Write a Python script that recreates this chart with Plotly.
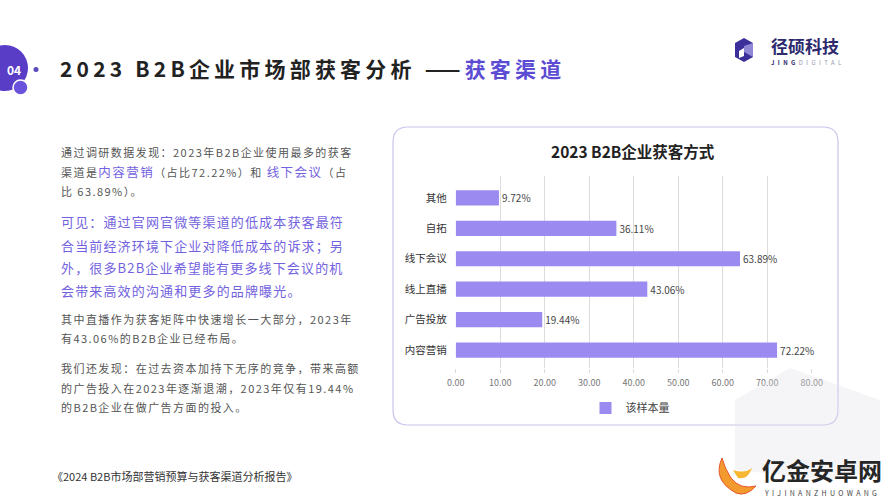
import plotly.graph_objects as go

W, H = 889, 500
FONT = "Noto Sans CJK SC"

# ---- data ----
categories = ["内容营销", "广告投放", "线上直播", "线下会议", "自拓", "其他"]
values = [72.22, 19.44, 43.06, 63.89, 36.11, 9.72]
x_ticks = [0, 10, 20, 30, 40, 50, 60, 70, 80]
series_name = "该样本量"
chart_title = "2023 B2B企业获客方式"

GRAY = "#555555"
PURP = "#7262e0"
TITLE_PURP = "#5b4cd3"
BAR = "#9b8af0"


def px(x):
    return x / W


def py(y):
    return 1 - y / H


fig = go.Figure()
fig.add_trace(go.Bar(
    x=values, y=categories, orientation="h", name=series_name,
    marker=dict(color=BAR, line=dict(width=0)), width=0.5,
    texttemplate="%{x:.2f}%", textposition="outside",
    textfont=dict(size=10, color="#444444", family=FONT),
    cliponaxis=False, hoverinfo="skip", showlegend=True,
))

shapes = []


def rrect(x0, y0, x1, y1, r):
    pts = [
        ("M", [(x0 + r, y0)]), ("L", [(x1 - r, y0)]), ("Q", [(x1, y0), (x1, y0 + r)]),
        ("L", [(x1, y1 - r)]), ("Q", [(x1, y1), (x1 - r, y1)]), ("L", [(x0 + r, y1)]),
        ("Q", [(x0, y1), (x0, y1 - r)]), ("L", [(x0, y0 + r)]), ("Q", [(x0, y0), (x0 + r, y0)]),
    ]
    s = ""
    for cmd, ps in pts:
        s += cmd + " " + " ".join(f"{px(a):.5f},{py(b):.5f}" for a, b in ps) + " "
    return s + "Z"


def poly(points):
    s = "M " + " L ".join(f"{px(a):.5f},{py(b):.5f}" for a, b in points)
    return s + " Z"


def qpath(cmds):
    s = ""
    for cmd, ps in cmds:
        s += cmd + " " + " ".join(f"{px(a):.5f},{py(b):.5f}" for a, b in ps) + " "
    return s + "Z"


# chart card
shapes.append(dict(type="path", xref="paper", yref="paper", path=rrect(393, 127, 838, 425, 15),
                   fillcolor="white", line=dict(color="#c9c4ec", width=1.2), layer="below"))
# faint background cube watermark
shapes.append(dict(type="path", xref="paper", yref="paper",
                   path=poly([(735, 400), (790, 368), (880, 400), (880, 470), (830, 480), (735, 470)]),
                   fillcolor="rgba(225,225,232,0.35)", line=dict(width=0), layer="above"))
# badge
shapes.append(dict(type="circle", xref="paper", yref="paper", x0=px(-18), x1=px(28), y0=py(45), y1=py(91),
                   fillcolor="#5a3dc6", line=dict(width=0)))
shapes.append(dict(type="circle", xref="paper", yref="paper", x0=px(13), x1=px(28), y0=py(80), y1=py(95),
                   fillcolor="#6a52dc", line=dict(color="white", width=1.5)))
shapes.append(dict(type="circle", xref="paper", yref="paper", x0=px(33.5), x1=px(38.5), y0=py(67), y1=py(72),
                   fillcolor="#5a4cc0", line=dict(width=0)))
# logo icon
shapes.append(dict(type="path", xref="paper", yref="paper",
                   path=poly([(744, 38), (753, 43), (753, 57), (744, 62), (735, 57), (735, 43)]),
                   fillcolor="#3c2f9a", line=dict(width=0)))
shapes.append(dict(type="path", xref="paper", yref="paper",
                   path=poly([(744, 46), (753, 43), (753, 57), (744, 52)]),
                   fillcolor="#8f86d6", line=dict(width=0)))
shapes.append(dict(type="path", xref="paper", yref="paper",
                   path=poly([(739, 51), (744, 48), (744, 56), (739, 58)]),
                   fillcolor="white", line=dict(width=0)))
# flame watermark
shapes.append(dict(type="path", xref="paper", yref="paper",
                   path=qpath([("M", [(722, 458)]), ("Q", [(712, 480), (736, 493)]),
                               ("Q", [(746, 497), (756, 486)]), ("Q", [(740, 490), (731, 478)]),
                               ("Q", [(725, 469), (722, 458)])]),
                   fillcolor="#f29a2e", line=dict(color="#e8542a", width=1)))
shapes.append(dict(type="path", xref="paper", yref="paper",
                   path=qpath([("M", [(733, 470)]), ("Q", [(745, 474), (752, 468)]),
                               ("Q", [(748, 480), (738, 478)])]),
                   fillcolor="#f7b733", line=dict(width=0)))

ann = []


def text(x, y, s, size, color="#333333", anchor="left", family=FONT):
    ann.append(dict(xref="paper", yref="paper", x=px(x), y=py(y), xanchor=anchor, yanchor="middle",
                    text=s, showarrow=False, font=dict(size=size, color=color, family=family)))


def sp(s, ls):
    return f'<span style="letter-spacing:{ls}px">{s}</span>'


# header
text(14, 69, "<b>04</b>", 12, "white", "center")
text(58, 68, sp("<b>2023 B2B企业市场部获客分析 ——</b>", 4.2) +
     f'<span style="letter-spacing:4.2px;fill:{TITLE_PURP}"><b>获客渠道</b></span>', 21, "#222222")
text(769, 46, "<b>径硕科技</b>", 17, "#2d2a6e")
text(769, 62, sp('<b>JING</b><span style="fill:#9a9ab0">DIGITAL</span>', 3.4), 6, "#2d2a6e")

# left text
LS = 1.45
PLS = 1.15
X0 = 58.5
text(X0, 152, sp("通过调研数据发现：2023年B2B企业使用最多的获客", LS), 11, GRAY)
text(X0, 171.5, sp("渠道是", LS) +
     f'<span style="letter-spacing:{LS}px;font-size:12.5px;fill:{PURP}">内容营销</span>' +
     sp("（占比72.22%）和 ", LS) +
     f'<span style="letter-spacing:{LS}px;font-size:12.5px;fill:{PURP}">线下会议</span>' +
     sp("（占", LS), 11, GRAY)
text(X0, 191, sp("比 63.89%）。", LS), 11, GRAY)
text(X0, 222, sp("可见：通过官网官微等渠道的低成本获客最符", PLS), 13, PURP)
text(X0, 245, sp("合当前经济环境下企业对降低成本的诉求；另", PLS), 13, PURP)
text(X0, 267.5, sp("外，很多B2B企业希望能有更多线下会议的机", PLS), 13, PURP)
text(X0, 290, sp("会带来高效的沟通和更多的品牌曝光。", PLS), 13, PURP)
text(X0, 319, sp("其中直播作为获客矩阵中快速增长一大部分，2023年", LS), 11, GRAY)
text(X0, 338, sp("有43.06%的B2B企业已经布局。", LS), 11, GRAY)
text(X0, 368, sp("我们还发现：在过去资本加持下无序的竞争，带来高额", LS), 11, GRAY)
text(X0, 387.5, sp("的广告投入在2023年逐渐退潮，2023年仅有19.44%", LS), 11, GRAY)
text(X0, 407, sp("的B2B企业在做广告方面的投入。", LS), 11, GRAY)

# footer
text(50, 476, "《2024 B2B市场部营销预算与获客渠道分析报告》", 11, "#333333")

# watermark text
text(822, 469, "<b>亿金安卓网</b>", 24, "#262626", "center")
text(822, 492.5, sp("YIJINANZHUOWANG", 3.3), 7, "#444444", "center")

# chart title
text(633, 151, "<b>" + chart_title + "</b>", 15.5, "#222222", "center")

fig.update_layout(
    width=W, height=H,
    margin=dict(l=0, r=0, t=0, b=0, autoexpand=False),
    paper_bgcolor="white", plot_bgcolor="rgba(0,0,0,0)",
    font=dict(family=FONT),
    shapes=shapes, annotations=ann,
    xaxis=dict(domain=[px(455.7), px(811.7)], range=[0, 80], tickvals=x_ticks,
               tickformat=".2f", ticksuffix="%", showgrid=True, gridcolor="#dcdcdc", gridwidth=1,
               zeroline=False, showline=False, ticks="outside", ticklen=4, tickcolor="#dcdcdc",
               tickfont=dict(size=9, color="#777777", family=FONT), ticklabelstandoff=2,
               fixedrange=True, automargin=False),
    yaxis=dict(domain=[py(368), py(176)], range=[-0.59, 5.72], showgrid=False, zeroline=False,
               showline=False, ticks="", tickfont=dict(size=10.5, color="#333333", family=FONT),
               ticklabelstandoff=8, fixedrange=True, automargin=False),
    legend=dict(orientation="h", x=px(630), y=py(408), xanchor="center", yanchor="middle",
                font=dict(size=11, color="#444444", family=FONT), bgcolor="rgba(0,0,0,0)",
                itemwidth=30),
    bargap=0.5,
)

fig.write_html("out.html")
